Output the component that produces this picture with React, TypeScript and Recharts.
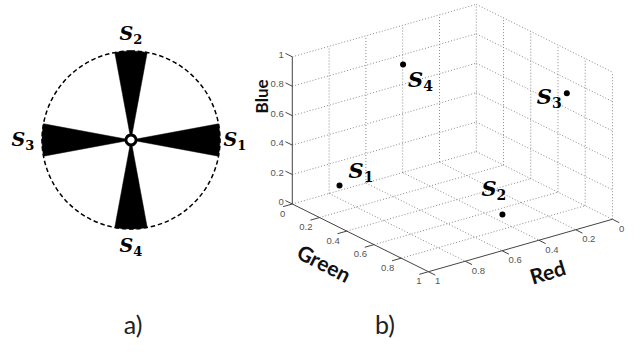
import React from "react";
import {
  PieChart,
  Pie,
  Cell,
  ScatterChart,
  Scatter,
  XAxis,
  YAxis,
  ReferenceLine,
} from "recharts";

// ---------------- Panel a) data ----------------
const SECTOR_NAMES = ["S", "S", "S", "S"];
const SECTOR_SUBS = ["1", "2", "3", "4"];
const WEDGE_DEG = 21;
const GAP_DEG = 69;
const CIRCLE = [{ name: "circle", value: 1 }];
const HUB = [{ name: "hub", value: 1 }];

// ---------------- Panel b) data ----------------
const POINT_SUBS = ["1", "2", "3", "4"];
const RED = [0.81, 0.45, 0.1, 0.62];
const GREEN = [0.09, 0.8, 0.8, 0.3];
const BLUE = [0.1, 0.1, 0.8, 0.95];
const TICKS = [0, 0.2, 0.4, 0.6, 0.8, 1];
const TICK_LABELS = ["0", "0.2", "0.4", "0.6", "0.8", "1"];
const AXIS_TITLES = ["Red", "Green", "Blue"];
const PANEL_LABELS = ["a)", "b)"];

// ---------------- layout / style ----------------
const W = 641;
const H = 354;
const PIE_CX = 131;
const PIE_CY = 140;
const PIE_R = 89;
const B_LEFT = 240;
const B_W = W - B_LEFT;
const UNIT = 184;
const ORIGIN_X = 292.3 - B_LEFT;
const ORIGIN_Y = 204;
const X_DOMAIN: [number, number] = [-ORIGIN_X / UNIT, (B_W - ORIGIN_X) / UNIT];
const Y_DOMAIN: [number, number] = [-(H - ORIGIN_Y) / UNIT, ORIGIN_Y / UNIT];
const TICK_LEN = 0.05;
const LABEL_OFFSETS = [
  { dx: 9, dy: -7.6 },
  { dx: -21, dy: -18.3 },
  { dx: -30, dy: 10.3 },
  { dx: 5, dy: 22.6 },
];
const WEDGE_LABEL_R = [PIE_R + 15, PIE_R + 17, PIE_R + 19, PIE_R + 17];
const GRID_STYLE = { stroke: "#8a8a8a", strokeDasharray: "1 2", strokeWidth: 1 };
const AXIS_STYLE = { stroke: "#444", strokeWidth: 1 };
const SERIF = "DejaVu Serif";
const SANS = "Lato";
const TICK_FONT = "Liberation Sans";

// projection of (red, green, blue) onto the view plane
const proj = (r: number, g: number, b: number) => ({
  x: g * 0.74 + (1 - r) * 1.0,
  y: -g * 0.368 + (1 - r) * 0.285 + b * 0.8,
});

// ----- build pie data -----
const pieData = SECTOR_NAMES.flatMap((n, i) => [
  { name: n + SECTOR_SUBS[i], value: WEDGE_DEG, wedge: true, sub: SECTOR_SUBS[i], k: i },
  { name: "gap" + i, value: GAP_DEG, wedge: false, sub: "", k: i },
]);

// ----- build scatter data -----
const points = POINT_SUBS.map((s, i) => ({
  ...proj(RED[i], GREEN[i], BLUE[i]),
  sub: s,
  idx: i,
}));

type Seg = [{ x: number; y: number }, { x: number; y: number }];
const gridSegs: Seg[] = [];
TICKS.filter((t) => t < 1).forEach((r) => gridSegs.push([proj(r, 0, 0), proj(r, 0, 1)]));
TICKS.filter((t) => t > 0).forEach((b) => gridSegs.push([proj(1, 0, b), proj(0, 0, b)]));
TICKS.filter((t) => t > 0).forEach((g) => gridSegs.push([proj(0, g, 0), proj(0, g, 1)]));
TICKS.filter((t) => t > 0).forEach((b) => gridSegs.push([proj(0, 0, b), proj(0, 1, b)]));
TICKS.filter((t) => t < 1).forEach((g) => gridSegs.push([proj(1, g, 0), proj(0, g, 0)]));
TICKS.filter((t) => t < 1).forEach((r) => gridSegs.push([proj(r, 0, 0), proj(r, 1, 0)]));

const axisSegs: Seg[] = [
  [proj(1, 0, 0), proj(1, 0, 1)],
  [proj(1, 0, 0), proj(1, 1, 0)],
  [proj(1, 1, 0), proj(0, 1, 0)],
];
TICKS.forEach((t) => {
  axisSegs.push([proj(1, 0, t), proj(1, -TICK_LEN, t)]);
  axisSegs.push([proj(1, t, 0), proj(1 + TICK_LEN, t, 0)]);
  axisSegs.push([proj(t, 1, 0), proj(t, 1 + TICK_LEN, 0)]);
});

const blueTicks = TICKS.map((t, i) => ({ ...proj(1, 0, t), label: TICK_LABELS[i] }));
const greenTicks = TICKS.map((t, i) => ({ ...proj(1, t, 0), label: TICK_LABELS[i] }));
const redTicks = TICKS.map((t, i) => ({ ...proj(t, 1, 0), label: TICK_LABELS[i] }));

const titles = [
  { ...proj(0.5, 1, 0), label: AXIS_TITLES[0], dx: 27, dy: 26, rot: -17, size: 21 },
  { ...proj(1, 0.5, 0), label: AXIS_TITLES[1], dx: -36, dy: 25, rot: 27, size: 21 },
  { ...proj(1, 0, 0.5), label: AXIS_TITLES[2], dx: -31, dy: -34, rot: -90, size: 17 },
];

const RAD = Math.PI / 180;

const wedgeLabel = (props: any) => {
  const { cx, cy, midAngle, index } = props;
  const d = pieData[index];
  if (!d || !d.wedge) return null;
  const r = WEDGE_LABEL_R[d.k];
  const x = cx + r * Math.cos(-midAngle * RAD);
  const y = cy + r * Math.sin(-midAngle * RAD);
  return (
    <text
      x={x}
      y={y + 6}
      textAnchor="middle"
      fontFamily={SERIF}
      fontWeight="bold"
      fontStyle="italic"
      fontSize={19}
      fill="#000"
    >
      S
      <tspan fontStyle="normal" fontSize={13} dy={4}>
        {d.sub}
      </tspan>
    </text>
  );
};

const pointShape = (props: any) => {
  const { cx, cy, payload } = props;
  const off = LABEL_OFFSETS[payload.idx];
  return (
    <g>
      <circle cx={cx} cy={cy} r={3} fill="#000" />
      <text
        x={cx + off.dx}
        y={cy + off.dy}
        fontFamily={SERIF}
        fontWeight="bold"
        fontStyle="italic"
        fontSize={21}
        fill="#000"
      >
        S
        <tspan fontStyle="normal" fontSize={14} dy={4}>
          {payload.sub}
        </tspan>
      </text>
    </g>
  );
};

const tickText =
  (dx: number, dy: number, anchor: "start" | "end" | "middle") => (props: any) => {
    const { cx, cy, payload } = props;
    return (
      <text
        x={cx + dx}
        y={cy + dy}
        textAnchor={anchor}
        dominantBaseline="central"
        fontFamily={TICK_FONT}
        fontSize={9.5}
        fill="#555"
      >
        {payload.label}
      </text>
    );
  };

const titleShape = (props: any) => {
  const { cx, cy, payload } = props;
  const x = cx + payload.dx;
  const y = cy + payload.dy;
  return (
    <text
      x={x}
      y={y}
      transform={`rotate(${payload.rot} ${x} ${y})`}
      textAnchor="middle"
      dominantBaseline="central"
      fontFamily={SANS}
      fontWeight="bold"
      fontSize={payload.size}
      fill="#111"
    >
      {payload.label}
    </text>
  );
};

export default function App() {
  return (
    <div
      style={{
        position: "absolute",
        left: 0,
        top: 0,
        width: W,
        height: H,
        background: "#fff",
        overflow: "hidden",
      }}
    >
      <div style={{ position: "absolute", left: 0, top: 0 }}>
        <PieChart width={262} height={300} margin={{ top: 0, right: 0, bottom: 0, left: 0 }}>
          <Pie
            data={CIRCLE}
            dataKey="value"
            cx={PIE_CX}
            cy={PIE_CY}
            innerRadius={0}
            outerRadius={PIE_R}
            startAngle={90}
            endAngle={450}
            isAnimationActive={false}
          >
            <Cell fill="none" stroke="#000" strokeWidth={1.5} strokeDasharray="4.5 2.8" />
          </Pie>
          <Pie
            data={pieData}
            dataKey="value"
            cx={PIE_CX}
            cy={PIE_CY}
            innerRadius={0}
            outerRadius={PIE_R}
            startAngle={-WEDGE_DEG / 2}
            endAngle={360 - WEDGE_DEG / 2}
            isAnimationActive={false}
            label={wedgeLabel}
            labelLine={false}
          >
            {pieData.map((d, i) => (
              <Cell
                key={i}
                fill={d.wedge ? "#000" : "none"}
                stroke={d.wedge ? "#000" : "none"}
                strokeWidth={0.5}
              />
            ))}
          </Pie>
          <Pie
            data={HUB}
            dataKey="value"
            cx={PIE_CX}
            cy={PIE_CY}
            innerRadius={0}
            outerRadius={6.5}
            startAngle={90}
            endAngle={450}
            isAnimationActive={false}
          >
            <Cell fill="#000" stroke="none" />
          </Pie>
          <Pie
            data={HUB}
            dataKey="value"
            cx={PIE_CX}
            cy={PIE_CY}
            innerRadius={0}
            outerRadius={3.6}
            startAngle={90}
            endAngle={450}
            isAnimationActive={false}
          >
            <Cell fill="#fff" stroke="none" />
          </Pie>
        </PieChart>
      </div>

      <div style={{ position: "absolute", left: B_LEFT, top: 0 }}>
        <ScatterChart width={B_W} height={H} margin={{ top: 0, right: 0, bottom: 0, left: 0 }}>
          <XAxis type="number" dataKey="x" domain={X_DOMAIN} allowDataOverflow hide />
          <YAxis type="number" dataKey="y" domain={Y_DOMAIN} allowDataOverflow hide />
          {gridSegs.map((s, i) => (
            <ReferenceLine key={"g" + i} segment={s} ifOverflow="visible" {...GRID_STYLE} />
          ))}
          {axisSegs.map((s, i) => (
            <ReferenceLine key={"a" + i} segment={s} ifOverflow="visible" {...AXIS_STYLE} />
          ))}
          <Scatter data={blueTicks} shape={tickText(-8.5, -2.5, "end")} isAnimationActive={false} />
          <Scatter data={greenTicks} shape={tickText(-7, 9, "end")} isAnimationActive={false} />
          <Scatter data={redTicks} shape={tickText(6.5, 9, "start")} isAnimationActive={false} />
          <Scatter data={titles} shape={titleShape} isAnimationActive={false} />
          <Scatter data={points} shape={pointShape} isAnimationActive={false} />
        </ScatterChart>
      </div>

      <svg
        width={W}
        height={H}
        style={{ position: "absolute", left: 0, top: 0, pointerEvents: "none" }}
      >
        <text x={133} y={334} textAnchor="middle" fontFamily={SANS} fontSize={25} fill="#222">
          {PANEL_LABELS[0]}
        </text>
        <text x={385} y={334} textAnchor="middle" fontFamily={SANS} fontSize={25} fill="#222">
          {PANEL_LABELS[1]}
        </text>
      </svg>
    </div>
  );
}
